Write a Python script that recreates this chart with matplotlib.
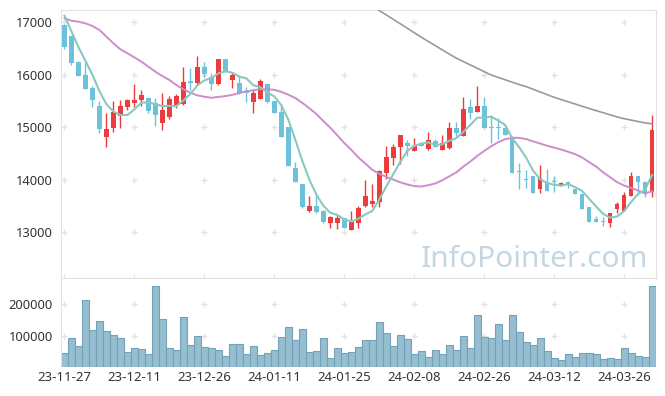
import matplotlib as mpl

mpl.use('Agg')
import matplotlib.pyplot as plt
import numpy as np

plt.rcParams['font.family'] = ['Noto Sans', 'DejaVu Sans']

#### Data ####
tick_labels = ['23-11-27', '23-12-11', '23-12-26', '24-01-11', '24-01-25',
               '24-02-08', '24-02-26', '24-03-12', '24-03-26']

open_price = [16940, 16730, 16230, 15990, 15745, 15400, 14815, 14990, 15215, 15375,
              15465, 15515, 15545, 15450, 15080, 15195, 15420, 15445, 15880, 15845,
              16140, 15960, 15820, 16295, 15895, 15835, 15660, 15480, 15535, 15815,
              15495, 15280, 15000, 14215, 13915, 13405, 13495, 13400, 13175, 13175,
              13260, 13040, 13175, 13500, 13535, 13575, 14115, 14415, 14625, 14700,
              14550, 14700, 14580, 14735, 14560, 14595, 14985, 14835, 15375, 15290,
              15400, 14990, 14990, 14975, 14815, 14140, 13995, 14065, 13815, 13940,
              13950, 13895, 13960, 13815, 13725, 13480, 13250, 13200, 13175, 13430,
              13405, 13690, 14065, 13960, 13770]
high_price = [16960, 16740, 16260, 16245, 15790, 15500, 15270, 15495, 15515, 15530,
              15815, 15705, 15550, 15560, 15640, 15600, 15630, 16150, 16120, 16350,
              16245, 16030, 16300, 16300, 16035, 15970, 15770, 15720, 15910, 15820,
              15500, 15420, 15000, 14330, 13915, 13690, 13705, 13410, 13305, 13320,
              13265, 13400, 13500, 13990, 13915, 14180, 14645, 14670, 14850, 14750,
              14785, 14720, 14900, 14780, 14850, 15090, 15100, 15580, 15530, 15780,
              15565, 15230, 15165, 14985, 14830, 14310, 14180, 14070, 14275, 14195,
              14070, 13950, 13965, 13815, 13725, 13480, 13305, 13290, 13360, 13575,
              13770, 14140, 14070, 13965, 15230]
low_price = [16490, 16190, 15975, 15730, 15390, 14890, 14625, 14910, 14990, 15325,
             15375, 15400, 15260, 15020, 14945, 15160, 15370, 15420, 15705, 15800,
             15960, 15700, 15805, 16040, 15740, 15625, 15480, 15270, 15530, 15450,
             15260, 14810, 14260, 13955, 13465, 13375, 13355, 13180, 13080, 13050,
             13075, 13030, 13070, 13470, 13480, 13470, 14010, 14275, 14290, 14450,
             14545, 14640, 14560, 14610, 14555, 14590, 14830, 14830, 15150, 15285,
             14985, 14690, 14765, 14840, 14130, 13815, 13830, 13745, 13735, 13785,
             13755, 13870, 13835, 13715, 13430, 13195, 13190, 13120, 13100, 13355,
             13400, 13690, 13705, 13660, 13675]
close_price = [16530, 16210, 15980, 15730, 15515, 14970, 14970, 15285, 15400, 15515,
               15515, 15610, 15310, 15230, 15325, 15535, 15590, 15855, 15845, 16140,
               16010, 15815, 16295, 16055, 15995, 15640, 15650, 15640, 15875, 15480,
               15270, 14815, 14265, 13960, 13470, 13495, 13390, 13195, 13280, 13260,
               13080, 13195, 13450, 13685, 13595, 14165, 14435, 14625, 14850, 14645,
               14645, 14645, 14750, 14615, 14690, 14985, 14890, 15345, 15270, 15400,
               14985, 14985, 14985, 14850, 14130, 14135, 13990, 13750, 14020, 13785,
               13945, 13925, 13895, 13720, 13430, 13195, 13195, 13195, 13355, 13535,
               13705, 14065, 13960, 13750, 14945]

ma5 = [17120, 16820, 16520, 16260, 15993, 15681, 15433, 15294, 15228, 15228,
       15337, 15465, 15470, 15436, 15398, 15402, 15398, 15507, 15630, 15793,
       15888, 15933, 16021, 16063, 16034, 15960, 15927, 15796, 15760, 15657,
       15583, 15416, 15141, 14758, 14356, 14001, 13716, 13502, 13366, 13324,
       13241, 13202, 13253, 13334, 13401, 13618, 13866, 14101, 14334, 14544,
       14640, 14682, 14707, 14660, 14669, 14737, 14786, 14905, 15036, 15178,
       15178, 15197, 15125, 15041, 14787, 14617, 14418, 14171, 14005, 13936,
       13898, 13885, 13914, 13854, 13783, 13633, 13487, 13347, 13274, 13295,
       13397, 13571, 13724, 13803, 14085]
ma20 = [17070, 17025, 17006, 16975, 16924, 16848, 16720, 16594, 16480, 16404,
        16327, 16244, 16149, 16053, 15971, 15895, 15800, 15718, 15654, 15603,
        15577, 15557, 15573, 15589, 15613, 15647, 15681, 15699, 15722, 15721,
        15708, 15669, 15616, 15553, 15460, 15358, 15248, 15115, 14987, 14843,
        14696, 14565, 14423, 14305, 14185, 14111, 14050, 13999, 13948, 13906,
        13875, 13867, 13891, 13924, 13985, 14059, 14134, 14242, 14341, 14448,
        14543, 14633, 14710, 14768, 14795, 14793, 14771, 14727, 14686, 14643,
        14608, 14572, 14529, 14484, 14421, 14332, 14247, 14139, 14044, 13950,
        13886, 13840, 13789, 13734, 13775]
# long average only visible from the middle of the chart
ma_long = [np.nan] * 44 + [
    17310, 17220, 17136, 17052, 16967, 16883, 16797, 16713, 16631, 16551,
    16471, 16391, 16313, 16249, 16184, 16121, 16056, 15991, 15946, 15900,
    15854, 15809, 15770, 15719, 15668, 15617, 15567, 15523, 15481, 15439,
    15395, 15353, 15313, 15273, 15233, 15193, 15159, 15132, 15105, 15079,
    15060]

volume = [45900, 92700, 67700, 214600, 117700, 145800, 114600, 102000, 92700, 49000,
          61500, 56200, 42700, 258300, 152000, 61500, 55200, 158300, 70800, 99000,
          64600, 61500, 55200, 36500, 74000, 74000, 42700, 67700, 39600, 45900,
          55200, 95900, 127100, 86500, 120800, 49000, 52100, 92700, 30200, 61500,
          45900, 49000, 64600, 86500, 86500, 142700, 108300, 67700, 102000, 89600,
          42700, 52100, 33300, 55200, 42700, 70800, 55200, 99000, 61500, 164600,
          95900, 92700, 136500, 86500, 164600, 111500, 80200, 70800, 92700, 52100,
          30200, 21000, 42700, 33300, 45900, 45900, 42700, 27100, 30200, 24000,
          61500, 45900, 36500, 33300, 258300]

UP = '#ee3b3b'
DOWN = '#6bc2da'
GRID = '#e2e2e2'


def plot_candles(ax, x, o, h, l, c):
    """
    Draw candle bodies and wicks
    """
    o, h, l, c = map(np.asarray, (o, h, l, c))
    colors = np.where(c >= o, UP, DOWN)
    ax.vlines(x, l, h, colors=colors, lw=1, zorder=2)
    body = np.maximum(np.abs(c - o), 18)
    ax.bar(x, body, bottom=np.minimum(o, c), width=0.68, color=colors,
           lw=0, zorder=3)


def crosses(ax, xs, ys):
    gx, gy = np.meshgrid(xs, ys)
    ax.plot(gx.ravel(), gy.ravel(), ls='none', marker='+', ms=4.5, mew=1,
            color=GRID, zorder=0, clip_on=False)


fig = plt.figure(figsize=(6.65, 3.96), dpi=100)
ax = fig.add_axes([61 / 665, 1 - 278 / 396, 594.5 / 665, 268 / 396])
axv = fig.add_axes([61 / 665, 1 - 367 / 396, 594.5 / 665, 89 / 396])

x = np.arange(len(close_price))
xticks = np.arange(0, len(close_price), 10)

# price panel
plot_candles(ax, x, open_price, high_price, low_price, close_price)
ax.plot(x, ma_long, color='#9a9a9a', lw=1.2, zorder=4)
ax.plot(x, ma20, color='#cc8dc9', lw=1.4, zorder=4)
ax.plot(x, ma5, color='#88c9bf', lw=1.5, zorder=4)
yticks = [13000, 14000, 15000, 16000, 17000]
crosses(ax, xticks, yticks)
ax.set_xlim(-0.5, len(close_price) - 0.5)
ax.set_ylim(12124, 17229)
ax.set_yticks(yticks)
ax.set_yticklabels([str(v) for v in yticks])
ax.set_xticks(xticks)
ax.tick_params(axis='x', direction='inout', length=6, color=GRID,
               labelbottom=False)
ax.tick_params(axis='y', length=0, pad=6, labelsize=9.3, labelcolor='#333333')
for s in ax.spines.values():
    s.set_color(GRID)
ax.text(0.987, 0.042, 'InfoPointer.com', transform=ax.transAxes,
        ha='right', va='baseline', fontsize=21.5, color='#c3d6e2', zorder=1)

# volume panel
axv.bar(x, volume, width=1.0, color='#96bed1', edgecolor='#72a1b8', lw=0.8)
crosses(axv, xticks, [100000, 200000])
axv.set_xlim(-0.5, len(close_price) - 0.5)
axv.set_ylim(0, 284000)
axv.set_yticks([100000, 200000])
axv.set_yticklabels(['100000', '200000'])
axv.set_xticks(xticks)
axv.set_xticklabels(tick_labels)
axv.tick_params(axis='x', length=0, pad=3, labelsize=9.5, labelcolor='#333333')
axv.tick_params(axis='y', length=0, pad=6, labelsize=9.3, labelcolor='#333333')
for k in ['right', 'bottom']:
    axv.spines[k].set_visible(False)
for k in ['left', 'top']:
    axv.spines[k].set_color(GRID)

fig.savefig('out.png', dpi=100)
